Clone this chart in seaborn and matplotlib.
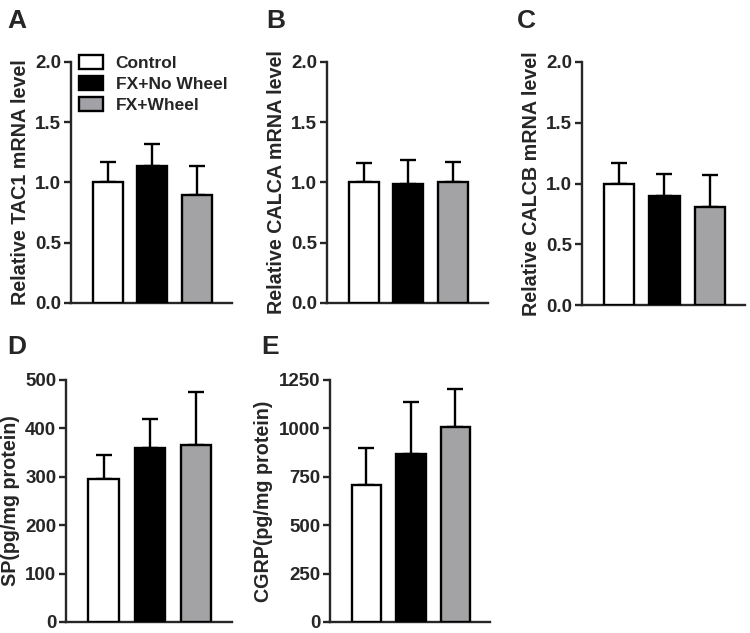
import numpy as np
import pandas as pd
import matplotlib
matplotlib.use("Agg")
import matplotlib.pyplot as plt
import seaborn as sns
from matplotlib.patches import Patch

groups = ["Control", "FX+No Wheel", "FX+Wheel"]
colors = ["#ffffff", "#000000", "#a2a2a6"]

# mean and upper SD
tac1_mean = [1.00, 1.14, 0.90]
tac1_sd = [0.17, 0.18, 0.24]
calca_mean = [1.00, 0.99, 1.00]
calca_sd = [0.16, 0.20, 0.17]
calcb_mean = [1.00, 0.90, 0.81]
calcb_sd = [0.17, 0.18, 0.26]
sp_mean = [296, 359, 366]
sp_sd = [49, 61, 110]
cgrp_mean = [710, 866, 1008]
cgrp_sd = [187, 270, 195]

sns.set_style("ticks")
plt.rcParams["font.family"] = ["Liberation Sans", "DejaVu Sans"]
plt.rcParams["font.weight"] = "bold"

fig = plt.figure(figsize=(7.5, 6.33), dpi=100)

W, H = 750.0, 633.0


def px_axes(x0, x1, ytop, ybot):
    return fig.add_axes([x0 / W, (H - ybot) / H, (x1 - x0) / W, (ybot - ytop) / H])


panels = [
    ("A", px_axes(71, 232, 62, 303), tac1_mean, tac1_sd, "Relative TAC1 mRNA level",
     (0, 2.0), np.arange(0, 2.01, 0.5), "{:.1f}", (7, 28)),
    ("B", px_axes(327, 488, 62, 303), calca_mean, calca_sd, "Relative CALCA mRNA level",
     (0, 2.0), np.arange(0, 2.01, 0.5), "{:.1f}", (266, 28)),
    ("C", px_axes(582, 745, 62, 305), calcb_mean, calcb_sd, "Relative CALCB mRNA level",
     (0, 2.0), np.arange(0, 2.01, 0.5), "{:.1f}", (517, 28)),
    ("D", px_axes(66, 232, 380, 622), sp_mean, sp_sd, "SP(pg/mg protein)",
     (0, 500), np.arange(0, 501, 100), "{:.0f}", (7, 354)),
    ("E", px_axes(330, 490, 380, 622), cgrp_mean, cgrp_sd, "CGRP(pg/mg protein)",
     (0, 1250), np.arange(0, 1251, 250), "{:.0f}", (261, 354)),
]

for letter, ax, mean, sd, ylab, ylim, yticks, fmt, lpos in panels:
    df = pd.DataFrame({"group": groups, "value": mean})
    sns.barplot(data=df, x="group", y="value", hue="group", palette=colors,
                order=groups, hue_order=groups, width=0.667, edgecolor="black",
                linewidth=1.7, errorbar=None, legend=False, ax=ax, zorder=3)
    ax.errorbar(np.arange(len(groups)), mean, yerr=[np.zeros(len(sd)), sd],
                fmt="none", ecolor="black", elinewidth=1.7, capsize=6,
                capthick=1.7, zorder=2)
    ax.set_xlim(-0.82, 2.78)
    ax.set_ylim(*ylim)
    ax.set_yticks(yticks)
    ax.set_yticklabels([fmt.format(t) for t in yticks], fontsize=13.5, fontweight="bold")
    ax.set_xticks([])
    ax.set_xlabel("")
    ax.set_ylabel(ylab, fontsize=14.2, fontweight="bold", labelpad=4)
    sns.despine(ax=ax)
    for s in ["left", "bottom"]:
        ax.spines[s].set_linewidth(1.7)
    ax.tick_params(axis="y", length=5, width=1.7, pad=2)
    fig.text(lpos[0] / W, 1 - lpos[1] / H, letter, fontsize=19, fontweight="bold",
             ha="left", va="baseline")

ax_a = panels[0][1]
handles = [Patch(facecolor=c, edgecolor="black", linewidth=1.7) for c in colors]
ax_a.legend(handles, groups, loc="upper left", bbox_to_anchor=(0.05, 1.03),
            frameon=False, handlelength=1.4, handleheight=0.85,
            handletextpad=0.7, labelspacing=0.3, borderpad=0, borderaxespad=0,
            prop={"weight": "bold", "size": 12.5})

fig.savefig("out.png", dpi=100)
